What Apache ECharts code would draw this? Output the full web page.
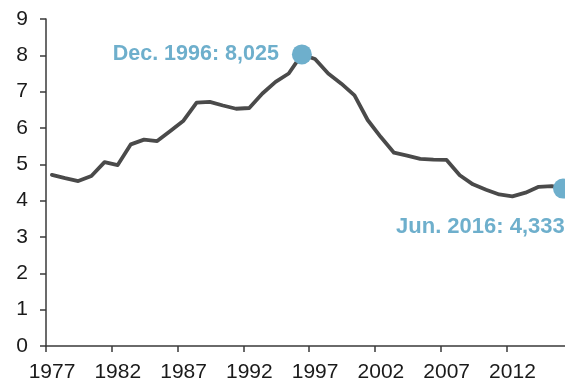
<!DOCTYPE html>
<html>
<head>
<meta charset="utf-8">
<script src="https://cdn.jsdelivr.net/npm/echarts@6/dist/echarts.min.js"></script>
<style>
  html, body { margin: 0; padding: 0; background: #ffffff; }
  #chart { width: 565px; height: 383px; }
</style>
</head>
<body>
<div id="chart"></div>
<script>
// ---- data ----
const startYear = 1977;
const tickLabels = ['1977', '1982', '1987', '1992', '1997', '2002', '2007', '2012'];
const yTickLabels = ['0', '1', '2', '3', '4', '5', '6', '7', '8', '9'];
// positions along the time axis (decimal years)
const times = [1977.45, 1978.45, 1979.45, 1980.45, 1981.45, 1982.45, 1983.45, 1984.45, 1985.45, 1986.45,
               1987.45, 1988.45, 1989.45, 1990.45, 1991.45, 1992.45, 1993.45, 1994.45, 1995.45, 1996.45,
               1997.45, 1998.45, 1999.45, 2000.45, 2001.45, 2002.45, 2003.45, 2004.45, 2005.45, 2006.45,
               2007.45, 2008.45, 2009.45, 2010.45, 2011.45, 2012.45, 2013.45, 2014.45, 2015.45, 2016.3];
const values = [4.71, 4.62, 4.54, 4.68, 5.06, 4.98, 5.55, 5.68, 5.64, 5.92,
                6.20, 6.70, 6.72, 6.62, 6.53, 6.55, 6.95, 7.27, 7.50, 8.025,
                7.90, 7.50, 7.22, 6.90, 6.22, 5.75, 5.32, 5.24, 5.15, 5.13,
                5.12, 4.70, 4.45, 4.30, 4.17, 4.12, 4.22, 4.38, 4.40, 4.333];
const highlightTimes = [1996.45, 2016.3];
const highlightValues = [8.025, 4.333];
const highlightLabels = ['Dec. 1996: 8,025', 'Jun. 2016: 4,333'];
const axisEnd = 2016.45;

// ---- chart ----
const chart = echarts.init(document.getElementById('chart'), null, { renderer: 'canvas' });
const lineData = times.map((t, i) => [t - startYear, values[i]]);
const hlData = highlightTimes.map((t, i) => ({
  value: [t - startYear, highlightValues[i]],
  name: highlightLabels[i],
  label: i === 0
    ? { position: 'left', distance: 13, fontSize: 21.5 }
    : { position: [-157, 48], align: 'left', verticalAlign: 'middle', fontSize: 22 }
}));
const labelFont = 'Liberation Sans, Arial, Helvetica, sans-serif';

chart.setOption({
  animation: false,
  backgroundColor: '#ffffff',
  grid: { left: 46, right: 0, top: 19, bottom: 37, containLabel: false },
  xAxis: {
    type: 'value',
    min: 0,
    max: axisEnd - startYear,
    interval: 5,
    splitLine: { show: false },
    axisLine: { show: true, lineStyle: { color: '#3a3a3a', width: 1.5 } },
    axisTick: { show: true, length: 6, lineStyle: { color: '#3a3a3a', width: 1.5 } },
    axisLabel: {
      showMaxLabel: false,
      margin: 16,
      padding: [0, 0, 0, 12],
      color: '#1a1a1a',
      fontSize: 21,
      fontFamily: labelFont,
      formatter: v => {
        const k = Math.round(v / 5);
        return Math.abs(v - k * 5) < 1e-6 && tickLabels[k] ? tickLabels[k] : '';
      }
    }
  },
  yAxis: {
    type: 'value',
    min: 0,
    max: 9,
    interval: 1,
    splitLine: { show: false },
    axisLine: { show: true, lineStyle: { color: '#3a3a3a', width: 1.5 } },
    axisTick: { show: true, length: 6, lineStyle: { color: '#3a3a3a', width: 1.5 } },
    axisLabel: {
      margin: 18,
      color: '#1a1a1a',
      fontSize: 21,
      fontFamily: labelFont,
      formatter: v => yTickLabels[Math.round(v)] || ''
    }
  },
  series: [
    {
      type: 'line',
      data: lineData,
      showSymbol: false,
      symbol: 'none',
      clip: false,
      lineStyle: { color: '#4a4a4a', width: 3.8, join: 'round', cap: 'round' },
      z: 2
    },
    {
      type: 'scatter',
      data: hlData,
      symbolSize: 20,
      clip: false,
      itemStyle: { color: '#6eafcc', opacity: 1 },
      emphasis: { disabled: true },
      label: {
        show: true,
        formatter: p => p.name,
        color: '#6eafcc',
        fontWeight: 'bold',
        fontFamily: labelFont
      },
      z: 3
    }
  ]
});
</script>
</body>
</html>
